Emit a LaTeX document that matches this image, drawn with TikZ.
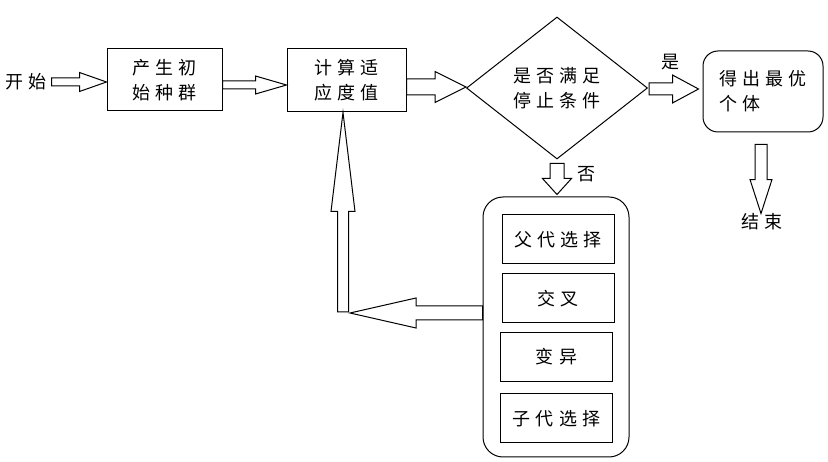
\documentclass[tikz,border=0pt]{standalone}
\usepackage{fontspec}
\setmainfont[LetterSpace=28]{Noto Sans CJK SC}
\usetikzlibrary{calc,shapes.geometric}

\newcommand{\FatArrow}[5]{
\coordinate (fa) at ($(#2)!#5!(#1)$);
\draw[fatarrow] ($(#1)!#3!90:(#2)$) -- ($(fa)!#3!90:(#2)$) -- ($(fa)!#4!90:(#2)$) -- (#2)
  -- ($(fa)!#4!-90:(#2)$) -- ($(fa)!#3!-90:(#2)$) -- ($(#1)!#3!-90:(#2)$) -- cycle;}

\begin{document}
\begin{tikzpicture}[x=1pt,y=-1pt]
\tikzset{txt/.style={font=\fontsize{18}{25}\selectfont,inner sep=0pt,align=left},
  box/.style={txt,draw,line width=1pt},
  opbox/.style={box,minimum width=112,minimum height=49},
  fatarrow/.style={draw,line width=1pt,line join=miter,fill=white}}
\useasboundingbox (0,0) rectangle (828,462);

\node[txt] (start) at (26,82) {开始};
\node[box,minimum width=115,minimum height=62] (init) at (164.5,80) {产生初\\始种群};
\node[box,minimum width=119,minimum height=63] (fit) at (346.5,80.5) {计算适\\应度值};
\node[box,diamond,aspect=1.27,minimum width=181,minimum height=142] (cond) at (557,88) {是否满足\\停止条件};
\node[box,rounded corners=15pt,minimum width=120,minimum height=81] (best) at (763,91.5) {得出最优\\个体};
\node[txt] (stop) at (762,222) {结束};
\node[box,rounded corners=20pt,minimum width=146,minimum height=260] (ga) at (556,327) {};
\node[opbox] (sel) at (558,239.5) {父代选择};
\node[opbox] (cross) at (558,298.5) {交叉};
\node[opbox] (mut) at (556.5,357) {变异};
\node[opbox] (sub) at (556.5,418.5) {子代选择};
\node[txt] (yes) at (670,62) {是};
\node[txt] (no) at (586,174) {否};

\coordinate (s-out) at ($(start.east)+(5,0)$);
\coordinate (s-in) at (s-out -| init.west);
\coordinate (i-out) at ($(init.east)+(0,5)$);
\coordinate (i-in) at (i-out -| fit.west);
\coordinate (f-out) at ($(fit.east)+(0,6.5)$);
\coordinate (c-in) at (f-out -| cond.west);
\coordinate (c-yes) at ($(cond.east)+(1,1)$);
\coordinate (b-in) at ($(c-yes -| best.west)+(-4,0)$);
\coordinate (b-out) at ($(best.south)+(-2,12)$);
\coordinate (e-in) at (b-out |- stop.north);
\coordinate (c-no) at ($(cond.south)+(0,4)$);
\coordinate (g-in) at ($(c-no |- ga.north)+(0,-2)$);
\coordinate (g-out) at ($(ga.west)+(0,-14)$);
\coordinate (loop) at (343,313);
\coordinate (l-in) at ($(loop)+(7,0)$);
\coordinate (l-up) at ($(loop)+(0,-1)$);
\coordinate (f-in) at (loop |- fit.south);

\FatArrow{s-out}{s-in}{4pt}{9.5pt}{27pt}
\FatArrow{i-out}{i-in}{4pt}{9pt}{31pt}
\FatArrow{f-out}{c-in}{8pt}{15.5pt}{31pt}
\FatArrow{c-yes}{b-in}{6pt}{14pt}{26pt}
\FatArrow{b-out}{e-in}{6pt}{11pt}{34pt}
\FatArrow{c-no}{g-in}{7pt}{14.5pt}{16pt}
\FatArrow{g-out}{l-in}{7pt}{15pt}{66pt}
\FatArrow{l-up}{f-in}{5.5pt}{12pt}{99pt}

\end{tikzpicture}
\end{document}
